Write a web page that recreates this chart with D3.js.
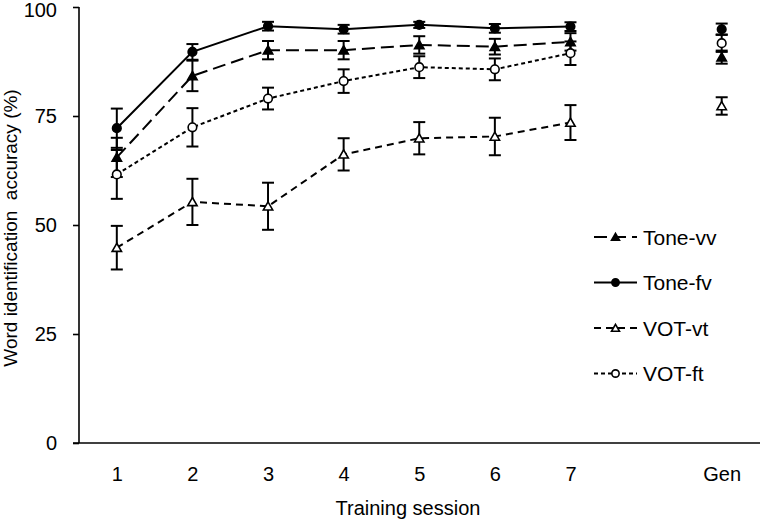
<!DOCTYPE html>
<html>
<head>
<meta charset="utf-8">
<script src="https://cdn.jsdelivr.net/npm/d3@7"></script>
<style>
  html, body { margin: 0; padding: 0; background: #fff; }
  svg { display: block; font-family: "Liberation Sans", Arial, sans-serif; }
</style>
</head>
<body>
<svg id="chart" width="760" height="520"></svg>
<script>
// ---- data ----
const sessions = [1, 2, 3, 4, 5, 6, 7];
const xTickValues = [1, 2, 3, 4, 5, 6, 7, 9];
const xTickLabels = ["1", "2", "3", "4", "5", "6", "7", "Gen"];
const yTickValues = [0, 25, 50, 75, 100];
const genPosition = 9;

const toneVV    = [65.5, 84.2, 90.1, 90.1, 91.3, 90.9, 92.0];
const toneVVErr = [4.5, 3.5, 2.1, 2.1, 2.0, 1.8, 2.0];
const toneVVGen = 88.5, toneVVGenErr = 1.5;

const toneFV    = [72.2, 89.7, 95.6, 94.9, 95.9, 95.1, 95.5];
const toneFVErr = [4.5, 1.8, 1.0, 1.0, 0.7, 1.0, 1.0];
const toneFVGen = 94.9, toneFVGenErr = 1.3;

const votVT     = [44.8, 55.3, 54.3, 66.2, 69.9, 70.3, 73.5];
const votVTErr  = [5.0, 5.3, 5.4, 3.7, 3.7, 4.3, 4.0];
const votVTGen  = 77.3, votVTGenErr = 2.0;

const votFT     = [61.6, 72.4, 79.0, 83.0, 86.2, 85.7, 89.4];
const votFTErr  = [5.6, 4.4, 2.5, 2.7, 2.5, 2.5, 2.7];
const votFTGen  = 91.7, votFTGenErr = 2.0;

const seriesNames = ["Tone-vv", "Tone-fv", "VOT-vt", "VOT-ft"];

// ---- layout ----
const svg = d3.select("#chart");
const x = d3.scaleLinear().domain([0.5, 9.5]).range([79, 759.5]);
const y = d3.scaleLinear().domain([0, 100]).range([443, 7]);

const series = [
  { name: seriesNames[0], vals: toneVV, err: toneVVErr, gen: toneVVGen, genErr: toneVVGenErr, dash: "13,6", marker: "triangle", fill: "#000" },
  { name: seriesNames[1], vals: toneFV, err: toneFVErr, gen: toneFVGen, genErr: toneFVGenErr, dash: null, marker: "circle", fill: "#000" },
  { name: seriesNames[2], vals: votVT, err: votVTErr, gen: votVTGen, genErr: votVTGenErr, dash: "7,5", marker: "triangle", fill: "#fff" },
  { name: seriesNames[3], vals: votFT, err: votFTErr, gen: votFTGen, genErr: votFTGenErr, dash: "4,3", marker: "circle", fill: "#fff" }
];

// axes
const yAxis = d3.axisLeft(y).tickValues(yTickValues).tickSize(6).tickPadding(16).tickFormat(d3.format("d"));
const gy = svg.append("g").attr("transform", `translate(${x(0.5)},0)`).call(yAxis);
gy.select(".domain").attr("stroke", "#000").attr("stroke-width", 1.6).attr("d", `M0,${y(0)}V${y(100)}`);
gy.selectAll(".tick line").attr("stroke", "#000").attr("stroke-width", 1.6);
gy.selectAll(".tick text").attr("font-size", 20).attr("fill", "#000").attr("font-family", "Liberation Sans, Arial, sans-serif");
gy.selectAll(".tick").filter(d => d === 100).select("text").attr("dy", "0.45em");

const xAxis = d3.axisBottom(x).tickValues(xTickValues).tickSize(0).tickPadding(24)
  .tickFormat((d, i) => xTickLabels[i]);
const gx = svg.append("g").attr("transform", `translate(0,${y(0)})`).call(xAxis);
gx.select(".domain").attr("stroke", "#000").attr("stroke-width", 1.6).attr("d", `M${x(0.5) - 6},0H760`);
gx.selectAll(".tick text").attr("font-size", 20).attr("fill", "#000").attr("font-family", "Liberation Sans, Arial, sans-serif");

// axis titles
svg.append("text").attr("x", 408).attr("y", 515).attr("text-anchor", "middle")
  .attr("font-size", 20).attr("fill", "#000").text("Training session");
svg.append("text").attr("transform", `translate(17,${y(50) + 3}) rotate(-90)`).attr("text-anchor", "middle")
  .attr("font-size", 19).attr("fill", "#000").attr("xml:space", "preserve").text("Word identification  accuracy (%)");

// marker drawing helper
function drawMarker(g, cx, cy, s, scale = 1) {
  if (s.marker === "circle") {
    g.append("circle").attr("cx", cx).attr("cy", cy).attr("r", 4.3 * scale)
      .attr("fill", s.fill).attr("stroke", "#000").attr("stroke-width", 1.6);
  } else {
    const sym = d3.symbol().type(d3.symbolTriangle).size(38 * scale * scale);
    g.append("path").attr("d", sym()).attr("transform", `translate(${cx},${cy + 1})`)
      .attr("fill", s.fill).attr("stroke", "#000").attr("stroke-width", 1.6);
  }
}

const line = d3.line().x((d, i) => x(sessions[i])).y(d => y(d));
const plot = svg.append("g");

// lines
series.forEach(s => {
  plot.append("path").datum(s.vals).attr("d", line).attr("fill", "none")
    .attr("stroke", "#000").attr("stroke-width", 2)
    .attr("stroke-dasharray", s.dash);
});

// error bars
const cap = 6;
series.forEach(s => {
  const pts = s.vals.map((v, i) => ({ xv: sessions[i], v, e: s.err[i] }));
  pts.push({ xv: genPosition, v: s.gen, e: s.genErr });
  pts.forEach(p => {
    const g = plot.append("g").attr("stroke", "#000").attr("stroke-width", 2);
    g.append("line").attr("x1", x(p.xv)).attr("x2", x(p.xv)).attr("y1", y(p.v - p.e)).attr("y2", y(p.v + p.e));
    g.append("line").attr("x1", x(p.xv) - cap).attr("x2", x(p.xv) + cap).attr("y1", y(p.v + p.e)).attr("y2", y(p.v + p.e));
    g.append("line").attr("x1", x(p.xv) - cap).attr("x2", x(p.xv) + cap).attr("y1", y(p.v - p.e)).attr("y2", y(p.v - p.e));
  });
});

// markers
series.forEach(s => {
  s.vals.forEach((v, i) => drawMarker(plot, x(sessions[i]), y(v), s));
  drawMarker(plot, x(genPosition), y(s.gen), s);
});

// legend
const legend = svg.append("g");
const legendY = [237, 282.5, 328, 373.5];
series.forEach((s, i) => {
  const ly = legendY[i];
  legend.append("line").attr("x1", 594).attr("x2", 637).attr("y1", ly).attr("y2", ly)
    .attr("stroke", "#000").attr("stroke-width", 2).attr("stroke-dasharray", s.dash);
  drawMarker(legend, 615.5, ly, s, 0.85);
  legend.append("text").attr("x", 643).attr("y", ly).attr("dy", "0.36em")
    .attr("font-size", 21).attr("fill", "#000").text(s.name);
});
</script>
</body>
</html>
